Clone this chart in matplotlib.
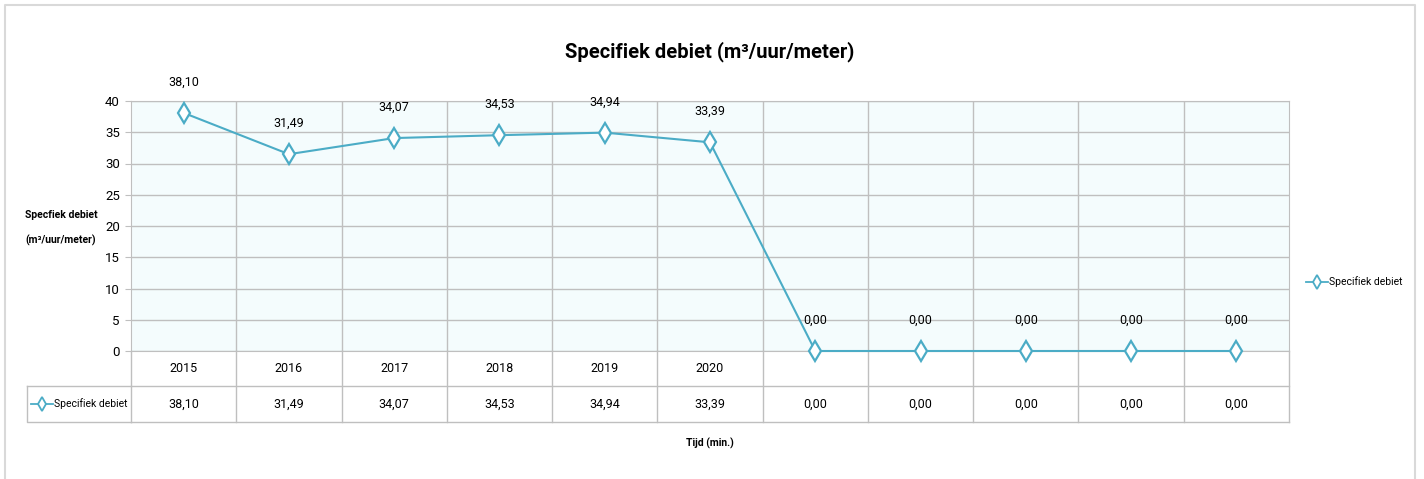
import matplotlib.pyplot as plt
from matplotlib.lines import Line2D
import matplotlib.transforms as mtransforms

plt.rcParams['font.family'] = ['Roboto', 'DejaVu Sans']

# data
years = ['2015', '2016', '2017', '2018', '2019', '2020', '', '', '', '', '']
debiet = [38.10, 31.49, 34.07, 34.53, 34.94, 33.39, 0.00, 0.00, 0.00, 0.00, 0.00]
series_name = 'Specifiek debiet'

LINE_C = '#4BACC6'
GRID_C = '#BFBFBF'
W, H = 1424, 479


def fmt(v):
    return f'{v:.2f}'.replace('.', ',')


fig = plt.figure(figsize=(W / 100, H / 100), dpi=100)

# chart border
fig.add_artist(Line2D([5 / W, 5 / W, 1415 / W, 1415 / W], [0, 1 - 5 / H, 1 - 5 / H, 0],
                      transform=fig.transFigure, color='#D9D9D9', lw=1.5))

ax = fig.add_axes([131 / W, (H - 351) / H, (1289 - 131) / W, 250 / H])
ax.set_facecolor('#F4FCFD')
x = list(range(len(debiet)))
ax.set_xlim(-0.5, len(debiet) - 0.5)
ax.set_ylim(0, 40)
ax.set_yticks(range(0, 41, 5))
ax.tick_params(axis='y', labelsize=9.5, length=4, color=GRID_C, pad=4)
ax.set_xticks([])
ax.grid(axis='y', color=GRID_C, lw=1)
for b in [i - 0.5 for i in range(1, len(debiet))]:
    ax.axvline(b, color=GRID_C, lw=1, zorder=1)
for s in ax.spines.values():
    s.set_color(GRID_C)
ax.set_axisbelow(True)

ax.plot(x, debiet, color=LINE_C, lw=1.5, marker='d', ms=10, mfc='white',
        mec=LINE_C, mew=1.6, zorder=5, clip_on=False)
for xi, v in zip(x, debiet):
    ax.annotate(fmt(v), (xi, v), xytext=(0, 22), textcoords='offset points',
                ha='center', va='center', fontsize=9)

fig.text(710 / W, 1 - 52 / H, 'Specifiek debiet (m³/uur/meter)', ha='center', va='center',
         fontsize=14.5, fontweight='bold')
fig.text(61 / W, 1 - 228 / H, 'Specfiek debiet\n(m³/uur/meter)', ha='center', va='center',
         fontsize=7.5, fontweight='bold', linespacing=2.6)

# data table under the axis
tr = mtransforms.blended_transform_factory(ax.transData, ax.transAxes)
r1 = -35 / 250
r2 = -71 / 250
for b in [i - 0.5 for i in range(0, len(debiet) + 1)]:
    ax.plot([b, b], [0, r2], transform=tr, color=GRID_C, lw=1, clip_on=False)
ax.plot([-0.5, len(debiet) - 0.5], [r1, r1], transform=tr, color=GRID_C, lw=1, clip_on=False)
ax.plot([-0.5, len(debiet) - 0.5], [r2, r2], transform=tr, color=GRID_C, lw=1, clip_on=False)
for xi, (yr, v) in enumerate(zip(years, debiet)):
    ax.text(xi, r1 / 2, yr, transform=tr, ha='center', va='center', fontsize=9)
    ax.text(xi, (r1 + r2) / 2, fmt(v), transform=tr, ha='center', va='center', fontsize=9)

# left cell of the table with the legend key
axt = ax.transAxes
pw = 1289 - 131
cell_l = (27 - 131) / pw
ax.plot([cell_l, cell_l, 0], [r1, r2, r2], transform=axt, color=GRID_C, lw=1, clip_on=False)
ax.plot([cell_l, 0], [r1, r1], transform=axt, color=GRID_C, lw=1, clip_on=False)
ax.plot([(31 - 131) / pw, (53 - 131) / pw], [(r1 + r2) / 2] * 2, transform=axt,
        color=LINE_C, lw=1.3, clip_on=False)
ax.plot([(42 - 131) / pw], [(r1 + r2) / 2], transform=axt, marker='d', ms=7,
        mfc='white', mec=LINE_C, mew=1.3, clip_on=False)
ax.text((54 - 131) / pw, (r1 + r2) / 2, series_name, transform=axt, ha='left',
        va='center', fontsize=7.5)

ax.text(0.5, -92 / 250, 'Tijd (min.)', transform=axt, ha='center', va='center',
        fontsize=7.5, fontweight='bold')

# legend on the right
leg_y = 1 - 282 / H
fig.add_artist(Line2D([1306 / W, 1328 / W], [leg_y, leg_y], transform=fig.transFigure,
                      color=LINE_C, lw=1.3))
fig.add_artist(Line2D([1317 / W], [leg_y], transform=fig.transFigure, marker='d', ms=7,
                      mfc='white', mec=LINE_C, mew=1.3))
fig.text(1329 / W, leg_y, series_name, ha='left', va='center', fontsize=7.5)

fig.savefig('out.png', dpi=100)
